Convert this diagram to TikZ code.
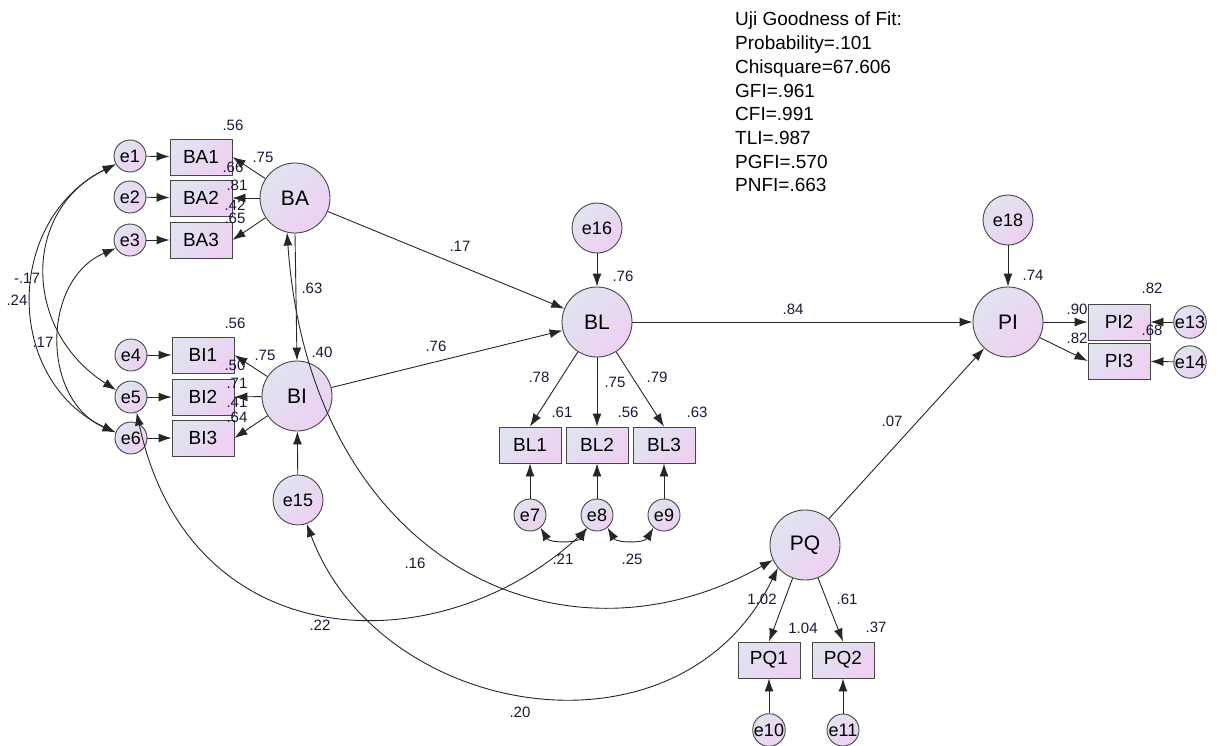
\documentclass[tikz,border=0pt]{standalone}
\usepackage{fontspec}
\setmainfont{Liberation Sans}
\usetikzlibrary{arrows.meta}
\definecolor{fillA}{RGB}{223,228,240}
\definecolor{fillB}{RGB}{238,208,242}
\definecolor{edge}{RGB}{70,70,70}
\definecolor{numc}{RGB}{25,25,55}
\tikzset{
  boxfill/.style={top color=fillA,bottom color=fillB,shading angle=45},
  lat/.style={circle,draw=edge,line width=0.9pt,minimum size=70pt,inner sep=0pt,boxfill,font=\fontsize{21}{24}\selectfont},
  err/.style={circle,draw=edge,line width=0.9pt,minimum size=32pt,inner sep=0pt,boxfill,font=\fontsize{18}{20}\selectfont},
  errbig/.style={err,minimum size=50pt},
  obs/.style={rectangle,draw=edge,line width=0.9pt,minimum width=62pt,minimum height=36pt,inner sep=0pt,boxfill,font=\fontsize{19}{21}\selectfont},
  coef/.style={inner sep=0pt,text=numc,font=\fontsize{15}{17}\selectfont},
  arr/.style={draw=black!85,line width=0.9pt,-{Latex[length=13pt,width=9pt]}},
  cov/.style={draw=black!85,line width=0.9pt,{Latex[length=13pt,width=9pt]}-{Latex[length=13pt,width=9pt]}}
}
\begin{document}
\begin{tikzpicture}[x=1pt,y=-1pt]
\useasboundingbox (0,0) rectangle (1219,745);

% latent variables
\node[lat] (BA) at (295,198) {BA};
\node[lat] (BI) at (297,396) {BI};
\node[lat] (BL) at (597,322) {BL};
\node[lat] (PI) at (1008,322) {PI};
\node[lat] (PQ) at (805,545) {PQ};

% indicators
\node[obs] (BA1) at (201,157) {BA1};
\node[obs] (BA2) at (201,198) {BA2};
\node[obs] (BA3) at (201,240) {BA3};
\node[obs] (BI1) at (203,355) {BI1};
\node[obs] (BI2) at (203,397) {BI2};
\node[obs] (BI3) at (203,438) {BI3};
\node[obs] (BL1) at (530,445) {BL1};
\node[obs] (BL2) at (597,445) {BL2};
\node[obs] (BL3) at (664,445) {BL3};
\node[obs] (PI2) at (1119,322) {PI2};
\node[obs] (PI3) at (1119,361) {PI3};
\node[obs] (PQ1) at (769,660) {PQ1};
\node[obs] (PQ2) at (843,660) {PQ2};

% errors
\node[err] (e1) at (130,156) {e1};
\node[err] (e2) at (130,197) {e2};
\node[err] (e3) at (130,240) {e3};
\node[err] (e4) at (131,355) {e4};
\node[err] (e5) at (131,397) {e5};
\node[err] (e6) at (131,438) {e6};
\node[err] (e7) at (530,515) {e7};
\node[err] (e8) at (597,515) {e8};
\node[err] (e9) at (664,515) {e9};
\node[err] (e10) at (769,730) {e10};
\node[err] (e11) at (843,730) {e11};
\node[err] (e13) at (1190,322) {e13};
\node[err] (e14) at (1190,362) {e14};
\node[errbig] (e15) at (298,500) {e15};
\node[errbig] (e16) at (597,228) {e16};
\node[errbig] (e18) at (1008,220) {e18};

\foreach \e/\b in {e1/BA1,e2/BA2,e3/BA3,e4/BI1,e5/BI2,e6/BI3,e13/PI2,e14/PI3}
  \draw[arr] (\e) -- (\b);
\foreach \e/\b in {e7/BL1,e8/BL2,e9/BL3,e10/PQ1,e11/PQ2}
  \draw[arr] (\e) -- (\b.south);
\draw[arr] (e15) -- (BI);
\draw[arr] (e16) -- (BL);
\draw[arr] (e18) -- (PI);

% loadings
\foreach \b in {BA1,BA2,BA3} \draw[arr] (BA) -- (\b.east);
\foreach \b in {BI1,BI2,BI3} \draw[arr] (BI) -- (\b.east);
\foreach \b in {BL1,BL2,BL3} \draw[arr] (BL) -- (\b.north);
\foreach \b in {PQ1,PQ2} \draw[arr] (PQ) -- (\b.north);
\draw[arr] (PI) -- (PI2.west);
\draw[arr] (PI) -- (PI3.west);

% structural paths
\draw[arr] (BA.-90) -- (BI.90);
\draw[arr] (BA) -- (BL);
\draw[arr] (BI) -- (BL);
\draw[arr] (BL) -- (PI);
\draw[arr] (PQ) -- (PI);

% covariances
\draw[cov] (e1.210) .. controls (22,210) and (22,330) .. (e5.155);
\draw[cov] (e1.210) .. controls (4,220) and (4,380) .. (e6.160);
\draw[cov] (e3.210) .. controls (41,280) and (41,400) .. (e6.160);
\draw[cov] (e5.-70) .. controls (190,660) and (440,665) .. (e8.-125);
\draw[cov] (BA.257) .. controls (310,560) and (560,680) .. (PQ.205);
\draw[cov] (e15.-70) .. controls (380,720) and (680,770) .. (PQ.220);
\draw[cov] (e7.-50) to[out=-60,in=-120] (e8.-130);
\draw[cov] (e8.-50) to[out=-60,in=-120] (e9.-130);

% estimates
\node[coef] (cBA1) at (233,125) {.56};
\node[coef] (lBA1) at (263,157) {.75};
\node[coef] (cBA2) at (233,167) {.66};
\node[coef] (lBA2) at (237,185) {.81};
\node[coef] (cBA3) at (235,205) {.42};
\node[coef] (lBA3) at (235,218) {.65};
\node[coef] (cBI1) at (235,323) {.56};
\node[coef] (lBI1) at (265,355) {.75};
\node[coef] (cBI2) at (235,365) {.50};
\node[coef] (lBI2) at (237,383) {.71};
\node[coef] (cBI3) at (237,402) {.41};
\node[coef] (lBI3) at (237,417) {.64};
\node[coef] (cBI) at (322,352) {.40};
\node[coef] (pBABI) at (312,288) {.63};
\node[coef] (pBABL) at (460,246) {.17};
\node[coef] (pBIBL) at (436,346) {.76};
\node[coef] (cBL) at (623,276) {.76};
\node[coef] (lBL1) at (539,377) {.78};
\node[coef] (lBL2) at (615,382) {.75};
\node[coef] (lBL3) at (657,377) {.79};
\node[coef] (cBL1) at (562,412) {.61};
\node[coef] (cBL2) at (628,412) {.56};
\node[coef] (cBL3) at (697,412) {.63};
\node[coef] (r78) at (563,559) {.21};
\node[coef] (r89) at (632,559) {.25};
\node[coef] (pBLPI) at (793,309) {.84};
\node[coef] (cPI) at (1033,275) {.74};
\node[coef] (lPI2) at (1077,309) {.90};
\node[coef] (lPI3) at (1077,338) {.82};
\node[coef] (cPI2) at (1152,288) {.82};
\node[coef] (cPI3) at (1152,330) {.68};
\node[coef] (pPQPI) at (892,421) {.07};
\node[coef] (lPQ1) at (762,599) {1.02};
\node[coef] (cPQ1) at (803,628) {1.04};
\node[coef] (lPQ2) at (847,599) {.61};
\node[coef] (cPQ2) at (876,627) {.37};
\node[coef] (r15) at (27,278) {-.17};
\node[coef] (r16) at (17,300) {.24};
\node[coef] (r36) at (43,342) {.17};
\node[coef] (r58) at (320,625) {.22};
\node[coef] (rBAPQ) at (415,563) {.16};
\node[coef] (r15PQ) at (520,712) {.20};

% fit indices
\node[anchor=north west,align=left,inner sep=0pt,font=\fontsize{19}{23.7}\selectfont] (gof) at (735,12)
  {Uji Goodness of Fit:\\Probability=.101\\Chisquare=67.606\\GFI=.961\\CFI=.991\\TLI=.987\\PGFI=.570\\PNFI=.663};
\end{tikzpicture}
\end{document}
